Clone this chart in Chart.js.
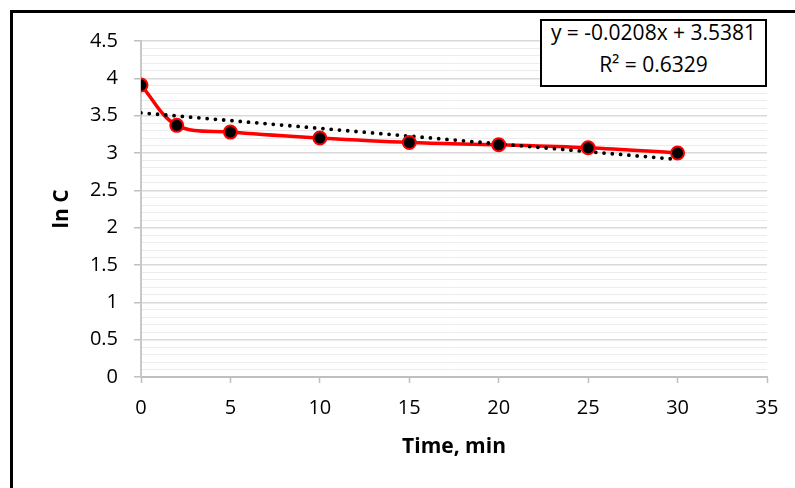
<!DOCTYPE html>
<html>
<head>
<meta charset="utf-8">
<script src="https://cdn.jsdelivr.net/npm/chart.js@4"></script>
<style>
  html, body { margin: 0; padding: 0; background: #fff; }
  #wrap { position: relative; width: 795px; height: 488px; overflow: hidden; }
  #eq {
    position: absolute; left: 540px; top: 19px; width: 227px; height: 68px;
    box-sizing: border-box; border: 2px solid #000; background: #fff;
    font-family: "Open Sans", sans-serif; font-size: 21px; color: #000;
    text-align: center; overflow: hidden;
  }
  #eq div { position: relative; top: -5px; line-height: 32px; white-space: nowrap; }
</style>
</head>
<body>
<div id="wrap">
  <canvas id="chart" width="795" height="488"></canvas>
  <div id="eq"><div>y = -0.0208x + 3.5381<br>R² = 0.6329</div></div>
</div>
<script>
// data
const timeMin = [0, 2, 5, 10, 15, 20, 25, 30];
const lnC = [3.91, 3.37, 3.28, 3.20, 3.14, 3.11, 3.07, 3.00];

// linear trendline as printed on the chart
const trendSlope = -0.0208;
const trendIntercept = 3.5381;
const trendRange = [0, 30];

const xTicks = [0, 5, 10, 15, 20, 25, 30, 35];
const yMax = 4.5;

const FONT = '"Open Sans", sans-serif';

const points = timeMin.map((t, i) => ({ x: t, y: lnC[i] }));
const trend = trendRange.map(t => ({ x: t, y: trendIntercept + trendSlope * t }));

const isMajor = v => Math.abs(v * 2 - Math.round(v * 2)) < 1e-6;

// outer frame of the picture (top and left edges only are in view)
const framePlugin = {
  id: 'frame',
  afterDraw(chart) {
    const ctx = chart.ctx;
    ctx.save();
    ctx.fillStyle = '#000';
    ctx.fillRect(10, 10, 785, 3);
    ctx.fillRect(10, 10, 3, 478);
    ctx.restore();
  }
};

new Chart(document.getElementById('chart'), {
  type: 'scatter',
  data: {
    datasets: [
      {
        // markers on top
        data: points,
        showLine: false,
        pointRadius: 6.5,
        pointBackgroundColor: '#000',
        pointBorderColor: '#ff0000',
        pointBorderWidth: 2
      },
      {
        data: trend,
        showLine: true,
        borderColor: '#000',
        borderWidth: 3.8,
        borderDash: [0, 8.3],
        borderCapStyle: 'round',
        pointRadius: 0,
        tension: 0
      },
      {
        data: points,
        showLine: true,
        borderColor: '#ff0000',
        borderWidth: 3.5,
        pointRadius: 0,
        tension: 0.35
      }
    ]
  },
  options: {
    responsive: false,
    animation: false,
    layout: { padding: { left: 45, top: 41, right: 28, bottom: 24 } },
    plugins: {
      legend: { display: false },
      tooltip: { enabled: false }
    },
    scales: {
      x: {
        type: 'linear',
        min: 0,
        max: 35,
        afterBuildTicks: s => { s.ticks = xTicks.map(v => ({ value: v })); },
        afterFit: s => { s.height = 87; },
        grid: { drawOnChartArea: false, drawTicks: true, tickLength: 6, tickColor: '#bfbfbf', tickWidth: 1.5 },
        border: { color: '#bfbfbf', width: 2 },
        ticks: { color: '#000', padding: 13, font: { family: FONT, size: 20 }, maxRotation: 0 },
        title: { display: true, text: 'Time, min', color: '#000', font: { family: FONT, size: 21, weight: 'bold' }, padding: { top: 4, bottom: 4 } }
      },
      y: {
        min: 0,
        max: yMax,
        afterFit: s => { s.width = 96; },
        grid: {
          color: c => isMajor(c.tick.value) ? '#d9d9d9' : '#ececec',
          lineWidth: c => isMajor(c.tick.value) ? 1.5 : 1,
          tickColor: c => isMajor(c.tick.value) ? '#bfbfbf' : 'rgba(0,0,0,0)',
          tickLength: 7,
          tickWidth: 1.5
        },
        border: { color: '#c8c8c8', width: 2 },
        ticks: {
          stepSize: 0.1,
          autoSkip: false,
          padding: 16,
          color: '#000',
          font: { family: FONT, size: 20 },
          callback: v => isMajor(v) ? String(Math.round(v * 2) / 2) : ''
        },
        title: { display: true, text: 'ln C', color: '#000', font: { family: FONT, size: 21, weight: 'bold' }, padding: { top: 4, bottom: 4 } }
      }
    }
  },
  plugins: [framePlugin]
});
</script>
</body>
</html>
